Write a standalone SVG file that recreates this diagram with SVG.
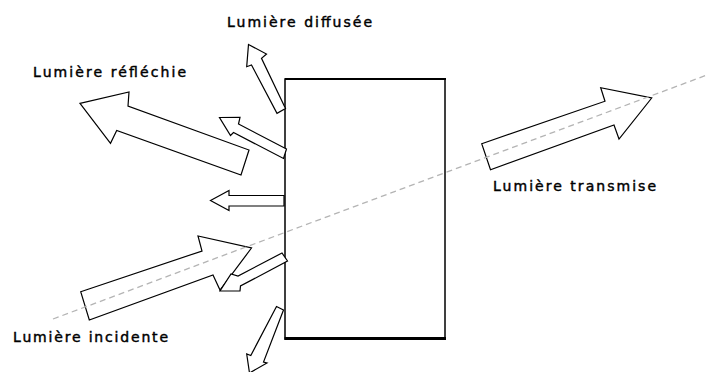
<svg xmlns="http://www.w3.org/2000/svg" width="708" height="372" viewBox="0 0 708 372">
<style>
.arrow{fill:#fff;stroke:#000;stroke-width:1.2;stroke-linejoin:miter}
.lbl{font-family:"DejaVu Sans","Liberation Sans",sans-serif;font-size:14px;fill:#000;stroke:#000;stroke-width:0.45}
.ray{stroke:#b4b4b4;stroke-width:1.3;stroke-dasharray:6 4;fill:none}
</style>
<rect width="708" height="372" fill="#fff"/>
<g id="sample">
<rect x="285" y="79" width="160" height="260" fill="none" stroke="#000" stroke-width="1.5"/>
<line x1="285" y1="79" x2="446" y2="79" stroke="#000" stroke-width="2"/>
<line x1="284.5" y1="338.5" x2="446" y2="338.5" stroke="#000" stroke-width="3"/>
</g>
<g id="arrows">
<polygon id="incident" class="arrow" points="80.7,291.7 202,251 198,236 251.5,248 220,290 213,275 89.3,320"/>
<polygon id="reflected-small-low" class="arrow" points="282,253 238,276 231,274 220,291 240,291 240.5,286 287.5,261"/>
<polygon id="reflected-big" class="arrow" points="80,103.3 129,92 128,106 249,150 241,175 116.7,130.5 110.5,143.3"/>
<polygon id="reflected-small-up" class="arrow" points="219.5,117.5 240,117.3 238.5,124 286.5,149 283.5,158.5 233.5,132.5 230.5,135.5"/>
<polygon id="reflected-normal" class="arrow" points="210.5,200.5 229,190.5 229,195.5 284,195.5 284,206 229,206 229,210.5"/>
<polygon id="diffuse-up" class="arrow" points="248.5,44.5 266.5,54 261.5,58.3 285.5,108.5 277,113.3 251.5,65 246.7,66.7"/>
<polygon id="diffuse-down" class="arrow" points="276.5,306.5 283.5,310 263.5,362 267,363 249.5,373 246.7,354 250.8,355.5"/>
<polygon id="transmitted" class="arrow" points="481.7,143.7 605,101.2 600.7,87.7 651.7,98 619,139 614,125 490.5,169.7"/>
</g>
<g id="connectors">
<line class="ray" x1="53" y1="319" x2="708" y2="74.6"/>
</g>
<g id="labels">
<text class="lbl" x="227" y="27" textLength="145" lengthAdjust="spacing">Lumière diffusée</text>
<text class="lbl" x="33" y="77" textLength="153" lengthAdjust="spacing">Lumière réfléchie</text>
<text class="lbl" x="493" y="191" textLength="163" lengthAdjust="spacing">Lumière transmise</text>
<text class="lbl" x="13" y="342" textLength="155" lengthAdjust="spacing">Lumière incidente</text>
</g>
</svg>
